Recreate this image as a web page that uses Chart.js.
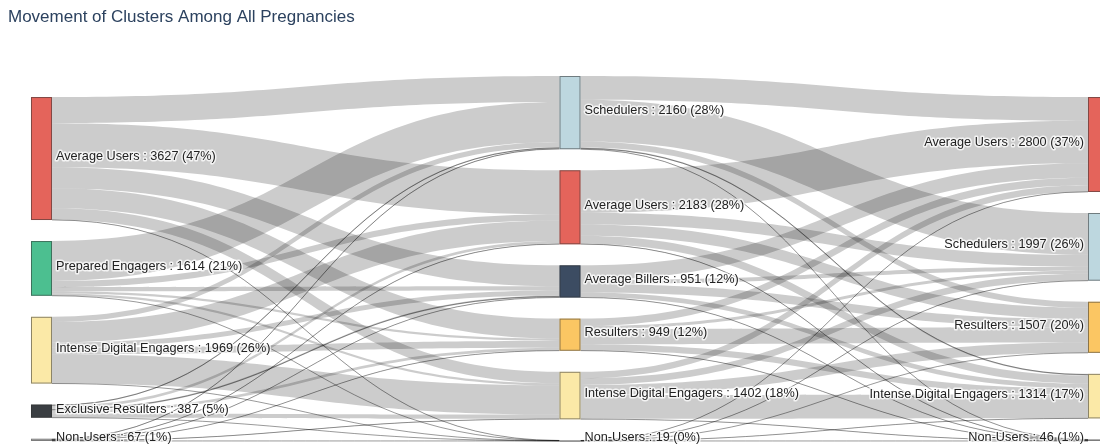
<!DOCTYPE html>
<html>
<head>
<meta charset="utf-8">
<title>Movement of Clusters Among All Pregnancies</title>
<script src="https://cdn.jsdelivr.net/npm/chart.js@4.4.1/dist/chart.umd.min.js"></script>
<style>
  html, body { margin: 0; padding: 0; background: #ffffff; }
  #wrap { width: 1100px; height: 447px; position: relative; }
</style>
</head>
<body>
<div id="wrap"><canvas id="clusterFlow"></canvas></div>
<script>
// Cluster membership at each of the three stages
const stage1Names = ['Average Users', 'Prepared Engagers', 'Intense Digital Engagers', 'Exclusive Resulters', 'Non-Users'];
const stage1Values = [3627, 1614, 1969, 387, 67];
const stage1Colors = ['#e4645b', '#4cbf90', '#fbe9a7', '#3a3e42', '#d8d8d8'];

const stage2Names = ['Schedulers', 'Average Users', 'Average Billers', 'Resulters', 'Intense Digital Engagers', 'Non-Users'];
const stage2Values = [2160, 2183, 951, 949, 1402, 19];
const stage2Colors = ['#bdd7df', '#e4645b', '#3c4c62', '#fbc663', '#fbe9a7', '#d8d8d8'];

const stage3Names = ['Average Users', 'Schedulers', 'Resulters', 'Intense Digital Engagers', 'Non-Users'];
const stage3Values = [2800, 1997, 1507, 1314, 46];
const stage3Colors = ['#e4645b', '#bdd7df', '#fbc663', '#fbe9a7', '#d8d8d8'];

// Movement between stages: rows = from, columns = to
const flows1to2 = [
    [770, 1300, 620, 590, 340, 7],
    [1180, 180, 120, 70, 60, 4],
    [150, 605, 150, 200, 861, 3],
    [40, 85, 55, 80, 125, 2],
    [20, 13, 6, 9, 16, 3]
];
const flows2to3 = [
    [700, 1234, 175, 47, 4],
    [1250, 350, 330, 240, 13],
    [430, 120, 250, 145, 6],
    [220, 90, 450, 180, 9],
    [190, 200, 300, 700, 12],
    [10, 3, 2, 2, 2]
];

const NODE_PAD = 620;   // gap between nodes, in people
const NODE_WIDTH = 21;  // px

const stages = [
    { names: stage1Names, values: stage1Values, colors: stage1Colors },
    { names: stage2Names, values: stage2Values, colors: stage2Colors },
    { names: stage3Names, values: stage3Values, colors: stage3Colors }
];
const flows = [flows1to2, flows2to3];

// stack each column from the bottom up
stages.forEach(stage => {
    let running = 0;
    stage.nodes = stage.values.map(() => null);
    for (let i = stage.values.length - 1; i >= 0; i--) {
        stage.nodes[i] = { bottom: running, top: running + stage.values[i] };
        running += stage.values[i] + NODE_PAD;
    }
    stage.total = stage.values.reduce((a, b) => a + b, 0);
});
const yMax = Math.max(...stages.map(s => s.total + (s.values.length - 1) * NODE_PAD));

const sankeyPlugin = {
    id: 'sankeyFlows',
    afterDatasetsDraw(chart) {
        const { ctx, chartArea } = chart;
        const x = chart.scales.x;
        const y = chart.scales.y;

        ctx.save();

        // links
        flows.forEach((matrix, c) => {
            const from = stages[c].nodes;
            const to = stages[c + 1].nodes;
            const srcTop = matrix.map((row, i) => {
                let top = from[i].top;
                return row.map(w => { const t = top; top -= w; return t; });
            });
            const tgtTop = matrix.map(row => row.map(() => 0));
            to.forEach((node, j) => {
                let top = node.top;
                matrix.forEach((row, i) => { tgtTop[i][j] = top; top -= row[j]; });
            });

            const x0 = x.getPixelForValue(c) + NODE_WIDTH;
            const x1 = x.getPixelForValue(c + 1);
            const xm = (x0 + x1) / 2;

            matrix.forEach((row, i) => {
                row.forEach((w, j) => {
                    if (!w) return;
                    const a0 = y.getPixelForValue(srcTop[i][j]);
                    const b0 = y.getPixelForValue(srcTop[i][j] - w);
                    const a1 = y.getPixelForValue(tgtTop[i][j]);
                    const b1 = y.getPixelForValue(tgtTop[i][j] - w);

                    ctx.beginPath();
                    ctx.moveTo(x0, a0);
                    ctx.bezierCurveTo(xm, a0, xm, a1, x1, a1);
                    ctx.lineTo(x1, b1);
                    ctx.bezierCurveTo(xm, b1, xm, b0, x0, b0);
                    ctx.closePath();
                    ctx.fillStyle = 'rgba(0, 0, 0, 0.2)';
                    ctx.fill();

                    // hairline links still need to show up
                    if (b0 - a0 < 2) {
                        const m0 = (a0 + b0) / 2;
                        const m1 = (a1 + b1) / 2;
                        ctx.beginPath();
                        ctx.moveTo(x0, m0);
                        ctx.bezierCurveTo(xm, m0, xm, m1, x1, m1);
                        ctx.strokeStyle = 'rgba(0, 0, 0, 0.4)';
                        ctx.lineWidth = 1;
                        ctx.stroke();
                    }
                });
            });
        });

        // nodes
        stages.forEach((stage, c) => {
            const left = x.getPixelForValue(c);
            stage.nodes.forEach((node, i) => {
                const top = y.getPixelForValue(node.top);
                const bottom = y.getPixelForValue(node.bottom);
                ctx.fillStyle = stage.colors[i];
                ctx.fillRect(left, top, NODE_WIDTH, Math.max(bottom - top, 1));
                ctx.strokeStyle = 'rgba(50, 50, 50, 0.55)';
                ctx.lineWidth = 1;
                ctx.strokeRect(left + 0.5, top + 0.5, NODE_WIDTH - 1, Math.max(bottom - top - 1, 0.5));
            });
        });

        // labels
        ctx.font = '12.7px "Liberation Sans", Arial, sans-serif';
        ctx.textBaseline = 'middle';
        ctx.lineJoin = 'round';
        stages.forEach((stage, c) => {
            const left = x.getPixelForValue(c);
            const last = c === stages.length - 1;
            ctx.textAlign = last ? 'right' : 'left';
            const tx = last ? left - 4 : left + NODE_WIDTH + 4;
            stage.nodes.forEach((node, i) => {
                const pct = Math.round(stage.values[i] / stage.total * 100);
                const text = stage.names[i] + ' : ' + stage.values[i] + ' (' + pct + '%)';
                const mid = (y.getPixelForValue(node.top) + y.getPixelForValue(node.bottom)) / 2;
                const ty = Math.min(mid - 2, chartArea.bottom - 4);
                ctx.strokeStyle = 'rgba(255, 255, 255, 0.75)';
                ctx.lineWidth = 3;
                ctx.strokeText(text, tx, ty);
                ctx.fillStyle = '#222222';
                ctx.fillText(text, tx, ty);
            });
        });

        ctx.restore();
    }
};

new Chart(
    document.getElementById('clusterFlow'),
    {
        type: 'scatter',
        data: {
            datasets: [{ data: [], pointRadius: 0 }]
        },
        options: {
            responsive: true,
            maintainAspectRatio: false,
            animation: false,
            events: [],
            layout: {
                padding: { left: 8, right: 0, top: 0, bottom: 6 }
            },
            plugins: {
                legend: { display: false },
                tooltip: { enabled: false },
                title: {
                    display: true,
                    text: 'Movement of Clusters Among All Pregnancies',
                    align: 'start',
                    color: '#2c425f',
                    font: { family: '"Liberation Sans", Arial, sans-serif', size: 17, weight: 'normal' },
                    padding: { top: 7, bottom: 48.6 }
                }
            },
            scales: {
                x: { type: 'linear', display: false, min: -0.0435, max: 2.0227 },
                y: { type: 'linear', display: false, min: 0, max: yMax }
            }
        },
        plugins: [sankeyPlugin]
    }
);
</script>
</body>
</html>
